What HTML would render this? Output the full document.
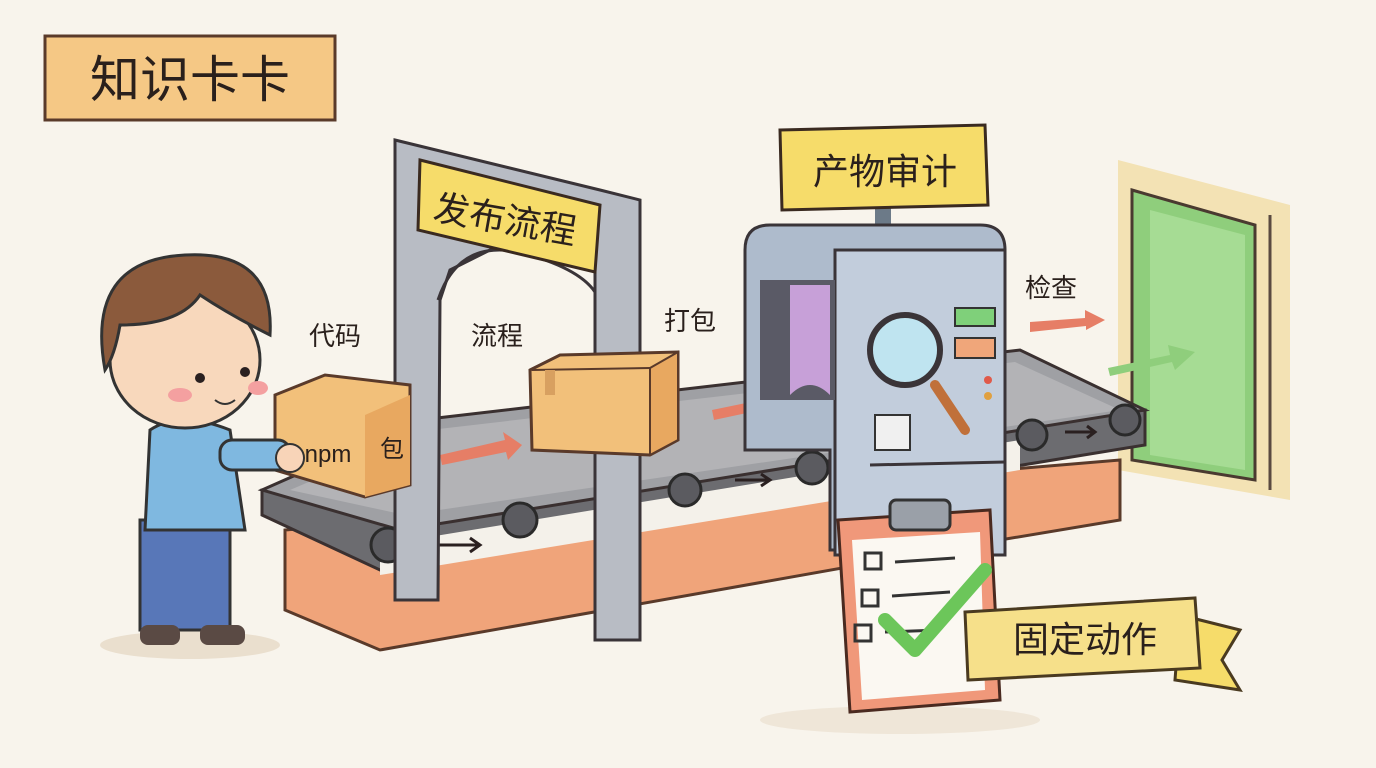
<!DOCTYPE html>
<html><head><meta charset="utf-8"><style>
html,body{margin:0;padding:0;background:#f8f4ec;}
svg{display:block}
text{font-family:"Liberation Sans","Noto Sans CJK SC",sans-serif;fill:#2a201c}
</style></head><body>
<svg width="1376" height="768" viewBox="0 0 1376 768" xmlns="http://www.w3.org/2000/svg">
<rect width="1376" height="768" fill="#f8f4ec"/>
<ellipse cx="190" cy="645" rx="90" ry="14" fill="#eadfce"/>
<ellipse cx="900" cy="720" rx="140" ry="14" fill="#efe6d8"/>
<!-- title -->
<rect x="45" y="36" width="290" height="84" fill="#f5c885" stroke="#5a3a2a" stroke-width="3"/>
<text x="190" y="97" font-size="50" text-anchor="middle">知识卡卡</text>
<!-- door -->
<polygon points="1118,160 1290,205 1290,500 1118,470" fill="#f3e2b4"/>
<polygon points="1132,190 1255,225 1255,480 1132,460" fill="#8fce7c" stroke="#4a3a30" stroke-width="3"/>
<polygon points="1150,210 1245,235 1245,470 1150,455" fill="#a6dc94"/>
<line x1="1270" y1="215" x2="1270" y2="490" stroke="#5a4a40" stroke-width="3"/>
<!-- conveyor base -->
<polygon points="285,530 1120,460 1120,520 1000,540 380,650 285,610" fill="#f0a47a" stroke="#5a3a2a" stroke-width="3"/>
<!-- belt front -->
<polygon points="262,490 1145,410 1145,445 380,570 262,515" fill="#6c6c70" stroke="#3a3030" stroke-width="3"/>
<polygon points="380,545 1020,440 1020,470 380,575" fill="#f4f1ea"/>
<!-- belt top -->
<polygon points="262,490 420,420 1020,350 1145,410 400,530" fill="#9fa0a4" stroke="#3a3030" stroke-width="3"/>
<polygon points="290,490 430,430 1015,362 1120,410 405,515" fill="#b3b3b6"/>
<g fill="#5b5b60" stroke="#2a2a2a" stroke-width="3">
<circle cx="388" cy="545" r="17"/><circle cx="520" cy="520" r="17"/><circle cx="685" cy="490" r="16"/><circle cx="812" cy="468" r="16"/><circle cx="1032" cy="435" r="15"/><circle cx="1125" cy="420" r="15"/>
</g>
<g stroke="#2a2020" stroke-width="3" fill="none">
<path d="M435,545 h45 m-10,-7 l10,7 l-10,7"/>
<path d="M735,480 h35 m-9,-6 l9,6 l-9,6"/>
<path d="M1065,432 h30 m-8,-6 l8,6 l-8,6"/>
</g>
<g fill="#e67e66"><polygon points="440,455 505,440 503,432 522,445 508,460 506,452 442,465"/>
<polygon points="712,410 770,398 768,390 790,402 772,416 770,408 714,420"/>
<polygon points="1030,322 1085,318 1085,310 1105,320 1086,330 1086,326 1030,332"/></g>
<polygon points="1108,368 1170,355 1168,345 1195,352 1175,370 1172,362 1110,376" fill="#8fce7c"/>
<!-- arch -->
<polygon points="395,140 600,190 640,200 640,640 595,640 595,250 540,240 520,235 515,250 490,250 450,270 440,300 438,600 395,600" fill="#b8bcc4" stroke="#3a3438" stroke-width="3"/>
<path d="M438,300 q20,-60 80,-48 q60,15 77,40" fill="none" stroke="#3a3438" stroke-width="3"/>
<polygon points="420,160 600,205 595,272 418,230" fill="#f6dc6a" stroke="#3a2a20" stroke-width="3"/>
<text x="505" y="232" font-size="36" text-anchor="middle" transform="rotate(10 505 220)">发布流程</text>
<!-- machine -->
<rect x="875" y="200" width="16" height="50" fill="#6c7a88"/>
<rect x="855" y="238" width="55" height="12" fill="#6c7a88"/>
<path d="M745,250 q0,-25 25,-25 h210 q25,0 25,25 v300 h-175 v-100 h-85z" fill="#aebbcc" stroke="#3a3438" stroke-width="3"/>
<rect x="835" y="250" width="170" height="305" fill="#c2cddc" stroke="#3a3438" stroke-width="3"/>
<path d="M760,280 h75 v120 h-75z" fill="#5a5a66"/>
<path d="M790,285 h40 v110 q-20,-20 -40,0z" fill="#c7a0d8"/>
<rect x="955" y="308" width="40" height="18" fill="#7fd07a" stroke="#333" stroke-width="2"/>
<rect x="955" y="338" width="40" height="20" fill="#f0a67a" stroke="#333" stroke-width="2"/>
<circle cx="988" cy="380" r="4" fill="#e05a4a"/><circle cx="988" cy="396" r="4" fill="#e0a040"/>
<rect x="875" y="415" width="35" height="35" fill="#f0f0f0" stroke="#333" stroke-width="2"/>
<line x1="870" y1="465" x2="1005" y2="462" stroke="#3a3438" stroke-width="3"/>
<line x1="935" y1="385" x2="965" y2="430" stroke="#c0703a" stroke-width="10" stroke-linecap="round"/>
<circle cx="905" cy="350" r="35" fill="#bfe4f0" stroke="#3a3438" stroke-width="6"/>
<polygon points="780,130 985,125 988,205 782,210" fill="#f6dc6a" stroke="#3a2a20" stroke-width="3"/>
<text x="885" y="184" font-size="36" text-anchor="middle">产物审计</text>
<!-- boxes -->
<polygon points="530,370 560,355 678,352 678,440 650,455 532,450" fill="#f2c07a" stroke="#5a3a2a" stroke-width="3"/>
<polygon points="650,368 678,352 678,440 650,455" fill="#e8a860" stroke="#5a3a2a" stroke-width="2"/>
<line x1="532" y1="370" x2="650" y2="368" stroke="#5a3a2a" stroke-width="2"/>
<rect x="545" y="370" width="10" height="25" fill="#d8a060"/>
<polygon points="275,395 325,375 410,385 410,485 365,497 275,470" fill="#f2c07a" stroke="#5a3a2a" stroke-width="3"/>
<polygon points="365,415 410,395 410,485 365,497" fill="#e8a860"/>
<text x="328" y="462" font-size="24" text-anchor="middle">npm</text>
<text x="392" y="457" font-size="24" text-anchor="middle">包</text>
<!-- labels -->
<text x="309" y="345" font-size="26">代码</text>
<text x="471" y="345" font-size="26">流程</text>
<text x="664" y="330" font-size="26">打包</text>
<text x="1025" y="297" font-size="26">检查</text>
<!-- boy -->
<rect x="140" y="520" width="90" height="110" fill="#5877b8" stroke="#333" stroke-width="3"/>
<rect x="140" y="625" width="40" height="20" rx="8" fill="#5a4a44"/><rect x="200" y="625" width="45" height="20" rx="8" fill="#5a4a44"/>
<path d="M150,430 q30,-20 80,0 l15,100 h-100z" fill="#7fb8e0" stroke="#333" stroke-width="3"/>
<rect x="220" y="440" width="70" height="30" rx="12" fill="#7fb8e0" stroke="#333" stroke-width="3"/>
<circle cx="290" cy="458" r="14" fill="#f8d4b8" stroke="#333" stroke-width="2"/>
<ellipse cx="185" cy="360" rx="75" ry="68" fill="#f8d8bc" stroke="#333" stroke-width="3"/>
<path d="M105,370 q-20,-110 80,-115 q90,-5 85,80 q-40,-20 -70,-40 q-20,30 -80,30 q-5,30 -15,45z" fill="#8b5a3c" stroke="#333" stroke-width="3"/>
<circle cx="200" cy="378" r="5" fill="#2a2020"/><circle cx="245" cy="372" r="5" fill="#2a2020"/>
<ellipse cx="180" cy="395" rx="12" ry="7" fill="#f4a0a0"/><ellipse cx="258" cy="388" rx="10" ry="7" fill="#f4a0a0"/>
<path d="M215,400 q10,8 20,0" fill="none" stroke="#333" stroke-width="2"/>
<!-- clipboard -->
<polygon points="838,520 990,510 1000,700 850,712" fill="#f0987a" stroke="#4a2a20" stroke-width="3"/>
<polygon points="852,540 980,532 985,690 862,700" fill="#fbf8f2"/>
<rect x="890" y="500" width="60" height="30" rx="6" fill="#9aa0a8" stroke="#333" stroke-width="3"/>
<g stroke="#333" stroke-width="3" fill="none">
<rect x="865" y="553" width="16" height="16"/><rect x="862" y="590" width="16" height="16"/><rect x="855" y="625" width="16" height="16"/>
<line x1="895" y1="562" x2="955" y2="558"/><line x1="892" y1="596" x2="950" y2="592"/><line x1="885" y1="632" x2="940" y2="630"/></g>
<path d="M885,620 l30,30 l70,-80" fill="none" stroke="#6cc65a" stroke-width="14" stroke-linecap="round" stroke-linejoin="round"/>
<!-- ribbon -->
<polygon points="1180,615 1240,630 1222,660 1240,690 1175,680" fill="#f6dc6a" stroke="#4a3a20" stroke-width="3"/>
<polygon points="965,612 1195,598 1200,668 968,680" fill="#f6e08a" stroke="#4a3a20" stroke-width="3"/>
<text x="1085" y="652" font-size="36" text-anchor="middle">固定动作</text>
</svg>
</body></html>
